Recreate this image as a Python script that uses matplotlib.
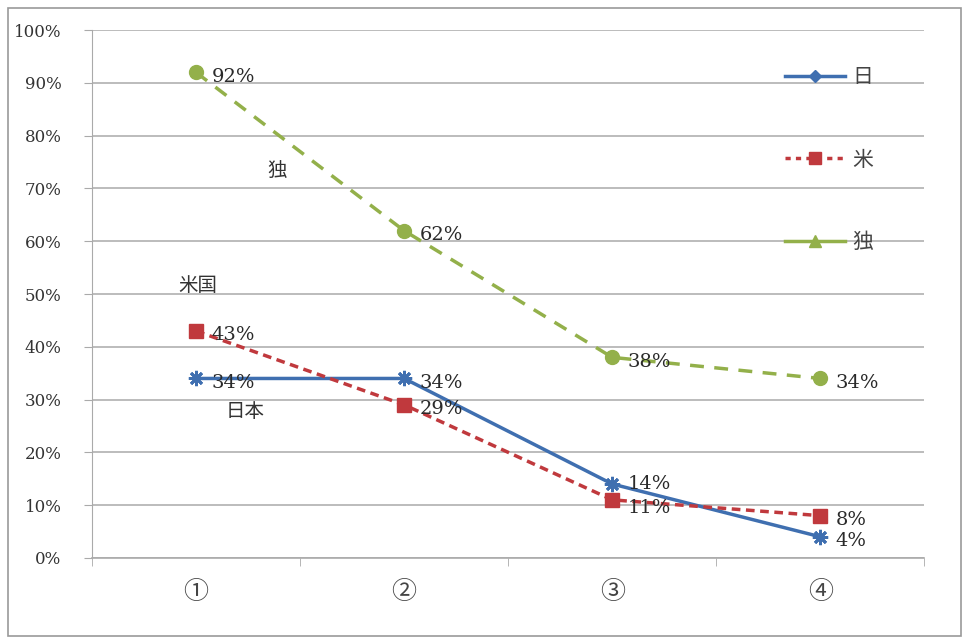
import matplotlib.pyplot as plt
from matplotlib.lines import Line2D
from matplotlib.patches import Rectangle

plt.rcParams['font.family'] = ['DejaVu Serif', 'Noto Sans CJK JP', 'DejaVu Sans']

# データ
categories = ['①', '②', '③', '④']
jp = [34, 34, 14, 4]    # 日
us = [43, 29, 11, 8]    # 米
de = [92, 62, 38, 34]   # 独
series_names = ['日', '米', '独']

c_jp = '#3f6fb0'
c_us = '#c0393d'
c_de = '#93b04a'
cjk = ['Noto Sans CJK JP', 'DejaVu Sans']

fig = plt.figure(figsize=(9.68, 6.42), dpi=100)
ax = fig.add_axes([0.095, 0.131, 0.86, 0.822])

x = list(range(len(categories)))
ax.plot(x, jp, color=c_jp, lw=2.5, marker=(8, 2, 0), ms=11, mew=2, zorder=4)
ax.plot(x, us, color=c_us, lw=2.5, ls=(0, (2.5, 1.6)), marker='s', ms=10, zorder=4)
ax.plot(x, de, color=c_de, lw=2.5, ls=(0, (4, 3)), marker='o', ms=10, zorder=4)

# データラベル (③の14%と11%は少しずらす)
for name, vals in zip(series_names, (jp, us, de)):
    for i, v in enumerate(vals):
        dy = -3
        if i == 2 and name == '日':
            dy = 0
        if i == 2 and name == '米':
            dy = -6
        ax.annotate('%d%%' % v, (i, v), xytext=(11, dy), textcoords='offset points',
                    ha='left', va='center', fontsize=14, color='#2a2a2a', zorder=5)

# 注記
ax.text(0.39, 73.5, '独', fontsize=14, ha='center', va='center', color='#333333', family=cjk)
ax.text(0.01, 51.7, '米国', fontsize=14, ha='center', va='center', color='#333333', family=cjk)
ax.text(0.235, 27.8, '日本', fontsize=14, ha='center', va='center', color='#333333', family=cjk)

ax.set_xlim(-0.5, 3.5)
ax.set_ylim(0, 100)
ax.set_yticks(range(0, 101, 10))
ax.set_yticklabels(['%d%%' % t for t in range(0, 101, 10)], fontsize=12, color='#333333')
ax.set_xticks(x)
ax.set_xticklabels(categories, fontsize=18, color='#444444', family=cjk)
ax.tick_params(axis='x', length=0, pad=15)
ax.tick_params(axis='y', length=6, color='#aaaaaa', pad=16)
ax.set_xticks([-0.5, 0.5, 1.5, 2.5, 3.5], minor=True)
ax.tick_params(axis='x', which='minor', length=6, color='#aaaaaa', direction='out')

ax.grid(axis='y', color='#b0b0b0', lw=1.2)
ax.set_axisbelow(True)
for s in ['top', 'right']:
    ax.spines[s].set_visible(False)
ax.spines['left'].set_color('#aaaaaa')
ax.spines['bottom'].set_color('#aaaaaa')
ax.spines['bottom'].set_linewidth(1.2)

handles = [
    Line2D([], [], color=c_jp, lw=2.5, marker='D', ms=6),
    Line2D([], [], color=c_us, lw=2.5, ls=(0, (1.5, 1.5)), marker='s', ms=9),
    Line2D([], [], color=c_de, lw=2.5, marker='^', ms=8),
]
leg = ax.legend(handles, series_names, loc='upper left', bbox_to_anchor=(0.81, 0.967),
                frameon=False, labelspacing=2.9, handlelength=2.9,
                handletextpad=0.35, prop={'family': cjk, 'size': 15})
for t in leg.get_texts():
    t.set_color('#444444')

fig.patches.append(Rectangle((0.008, 0.01), 0.985, 0.978, transform=fig.transFigure,
                             fill=False, edgecolor='#999999', lw=1.2))

fig.savefig('out.png', dpi=100)
